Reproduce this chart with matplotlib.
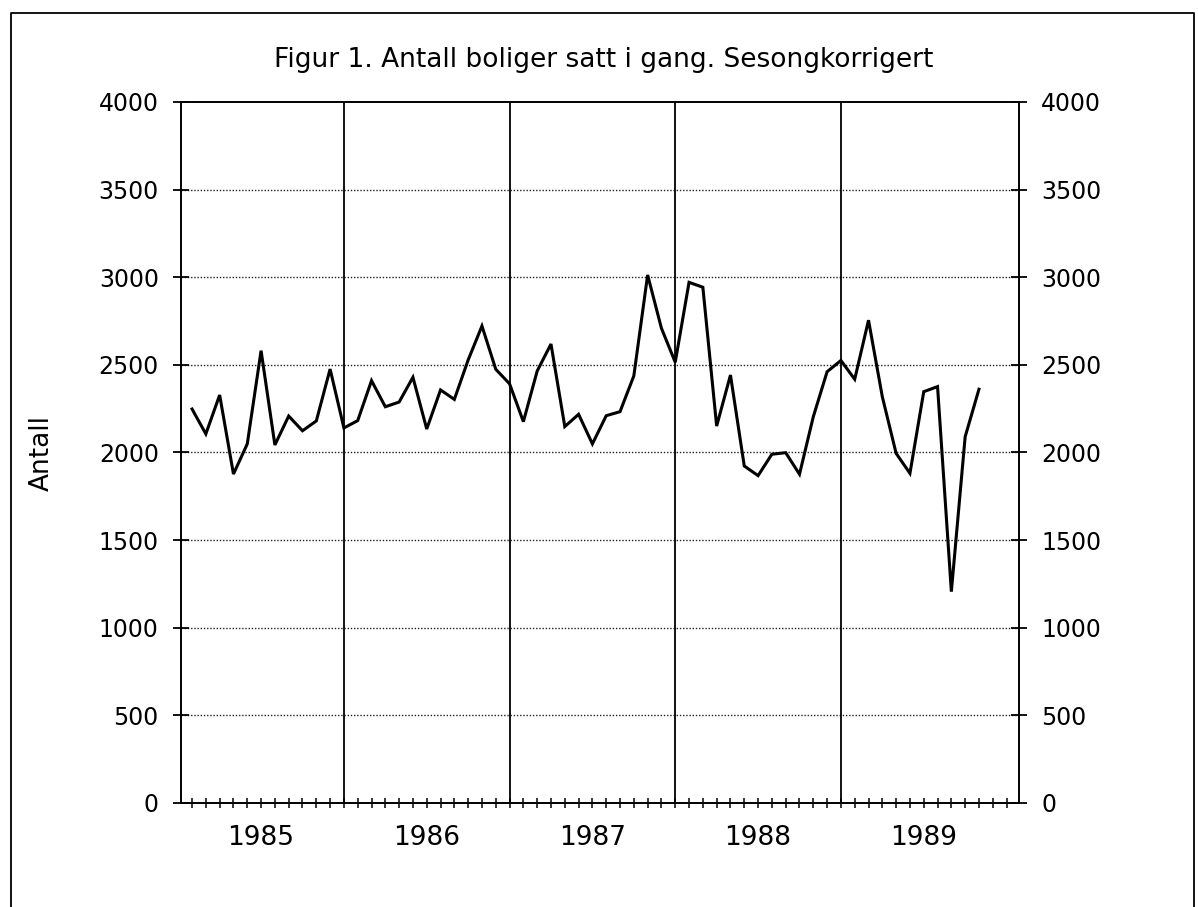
import matplotlib
matplotlib.use("Agg")
import matplotlib.pyplot as plt
from matplotlib.lines import Line2D

# ---- data (monthly, seasonally adjusted housing starts, Feb 1985 - Nov 1989) ----
month_index = list(range(1, 59))
antall = [2248, 2106, 2328, 1877, 2049, 2581, 2043, 2208, 2124, 2180, 2476, 2140,
          2182, 2410, 2261, 2288, 2429, 2134, 2357, 2303, 2528, 2722, 2475, 2392,
          2176, 2465, 2619, 2148, 2218, 2049, 2210, 2233, 2437, 3013, 2709, 2515,
          2971, 2943, 2151, 2442, 1923, 1868, 1990, 1999, 1876, 2204, 2461, 2525,
          2418, 2755, 2318, 1995, 1881, 2347, 2376, 1206, 2090, 2361]
years = ["1985", "1986", "1987", "1988", "1989"]
year_centers = [6, 18, 30, 42, 54]
year_bounds = [12, 24, 36, 48]
y_ticks = [0, 500, 1000, 1500, 2000, 2500, 3000, 3500, 4000]
month_ticks = list(range(1, 61))

title = "Figur 1. Antall boliger satt i gang. Sesongkorrigert"
ylabel = "Antall"

W, H = 1198, 907
fig = plt.figure(figsize=(W / 100, H / 100), dpi=100)
left, right, top, bottom = 181, 1019, 102, 803
ax = fig.add_axes([left / W, 1 - bottom / H, (right - left) / W, (bottom - top) / H])

ax.plot(month_index, antall, color="black", lw=2.2, solid_joinstyle="miter", zorder=3)

ax.set_xlim(0.2, 60.9)
ax.set_ylim(0, 4000)

# horizontal dotted gridlines
for v in y_ticks[1:-1]:
    ax.axhline(v, color="#222222", lw=1.0, ls=(0, (1, 1.3)), zorder=1)
# year separators
for b in year_bounds:
    ax.axvline(b, color="black", lw=1.3, zorder=2)

for s in ax.spines.values():
    s.set_linewidth(1.4)

font = "DejaVu Sans"
ax.set_yticks(y_ticks)
ax.set_yticklabels([str(v) for v in y_ticks], fontsize=17, family=font)
ax.tick_params(axis="y", which="major", direction="inout", length=12, width=1.3,
               left=True, right=True, labelleft=True, labelright=True, pad=10)

ax.xaxis.remove_overlapping_locs = False
ax.set_xticks(year_centers)
ax.set_xticklabels(years, fontsize=19, family=font)
ax.set_xticks(month_ticks, minor=True)
ax.tick_params(axis="x", which="major", length=0, pad=16)
ax.tick_params(axis="x", which="minor", direction="inout", length=7, width=1.1)

fig.text(604 / W, 1 - 60 / H, title, ha="center", va="center", fontsize=19, family=font)
fig.text(42 / W, 1 - 453 / H, ylabel, ha="center", va="center", rotation=90,
         fontsize=19, family=["Liberation Sans Narrow", "DejaVu Sans"])

# outer frame (top, left, right)
fig.add_artist(Line2D([11 / W, 11 / W, 1194 / W, 1194 / W],
                      [0, 1 - 13 / H, 1 - 13 / H, 0], color="black", lw=1.3,
                      transform=fig.transFigure))

fig.savefig("out.png", dpi=100, facecolor="white")
